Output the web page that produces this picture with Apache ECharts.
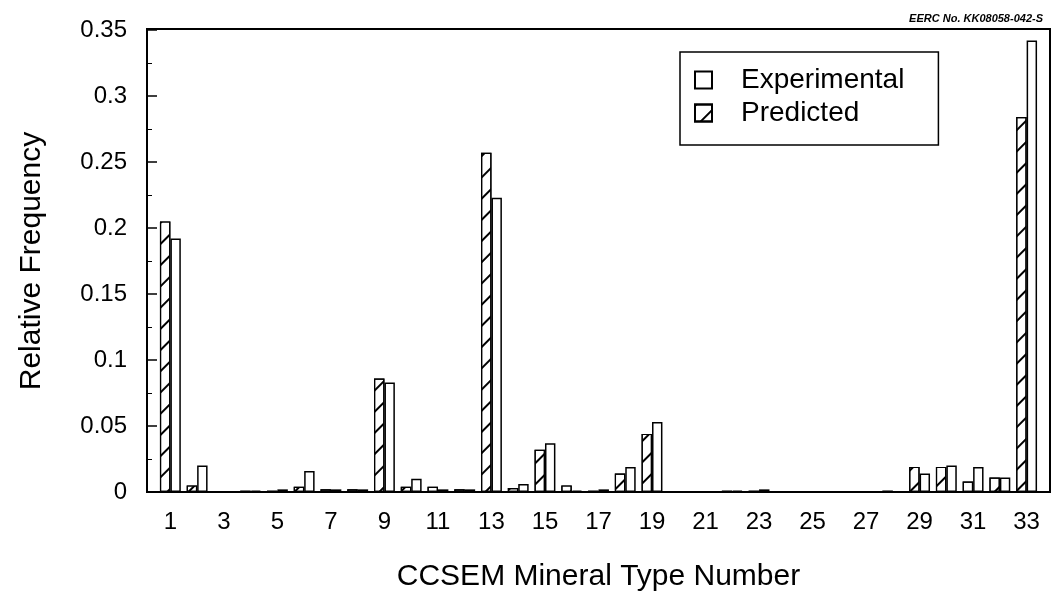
<!DOCTYPE html>
<html>
<head>
<meta charset="utf-8">
<script src="https://cdn.jsdelivr.net/npm/echarts@6/dist/echarts.min.js"></script>
<style>
  html, body { margin: 0; padding: 0; background: #fff; }
  #chart { width: 1058px; height: 592px; }
</style>
</head>
<body>
<div id="chart"></div>
<script>
// CCSEM mineral types 1..33
const mineralTypes = Array.from({ length: 33 }, (_, i) => String(i + 1));

// Relative frequency per mineral type
const predicted = [
  0.205, 0.005, 0.000, 0.001, 0.001, 0.004, 0.002, 0.002, 0.086, 0.004,
  0.004, 0.002, 0.257, 0.003, 0.032, 0.005, 0.001, 0.014, 0.044, 0.000,
  0.000, 0.001, 0.001, 0.000, 0.000, 0.000, 0.000, 0.001, 0.019, 0.019,
  0.008, 0.011, 0.284
];
const experimental = [
  0.192, 0.020, 0.000, 0.001, 0.002, 0.016, 0.002, 0.002, 0.083, 0.010,
  0.002, 0.002, 0.223, 0.006, 0.037, 0.001, 0.002, 0.019, 0.053, 0.000,
  0.000, 0.001, 0.002, 0.000, 0.000, 0.000, 0.000, 0.000, 0.014, 0.020,
  0.019, 0.011, 0.342
];

const yTicks = { min: 0, max: 0.35, step: 0.05 };

const FONT = '"Liberation Sans", Arial, Helvetica, sans-serif';

// diagonal single hatch for the predicted bars
const hatch = {
  symbol: 'rect',
  symbolSize: 1,
  color: '#000',
  dashArrayX: [1, 0],
  dashArrayY: [1.5, 13],
  rotation: -Math.PI / 4
};

const chart = echarts.init(document.getElementById('chart'), null, { renderer: 'canvas' });

chart.setOption({
  backgroundColor: '#fff',
  animation: false,
  title: {
    text: 'EERC No. KK08058-042-S',
    right: 10,
    top: 8,
    textStyle: { fontFamily: FONT, fontSize: 11, fontWeight: 'bold', fontStyle: 'italic', color: '#000' }
  },
  grid: { left: 157, right: 18, top: 30, bottom: 100, outerBoundsMode: 'none', containLabel: false },
  legend: {
    orient: 'vertical',
    left: 680,
    top: 52,
    padding: [14, 34, 18, 14],
    borderColor: '#000',
    borderWidth: 1.5,
    icon: 'rect',
    itemWidth: 17,
    itemHeight: 17,
    itemGap: 5,
    data: ['Experimental', 'Predicted'],
    textStyle: { fontFamily: FONT, fontSize: 28, color: '#000', padding: [0, 0, 0, 24] }
  },
  graphic: [{
    type: 'rect',
    shape: { x: 147, y: 29, width: 903, height: 463 },
    style: { fill: 'none', stroke: '#000', lineWidth: 2 },
    silent: true,
    z: 10
  }],
  xAxis: {
    type: 'category',
    data: mineralTypes,
    name: 'CCSEM Mineral Type Number',
    nameLocation: 'middle',
    nameGap: 70,
    nameTextStyle: { fontFamily: FONT, fontSize: 30, color: '#000' },
    axisLine: { show: false },
    axisTick: { show: false },
    axisLabel: { interval: 1, margin: 18, fontFamily: FONT, fontSize: 24, color: '#000' }
  },
  yAxis: {
    type: 'value',
    min: yTicks.min,
    max: yTicks.max,
    interval: yTicks.step,
    offset: 10,
    name: 'Relative Frequency',
    nameLocation: 'middle',
    nameGap: 100,
    nameTextStyle: { fontFamily: FONT, fontSize: 30, color: '#000' },
    axisLine: { show: false },
    axisTick: { show: true, inside: true, length: 10, lineStyle: { color: '#000', width: 1.5 } },
    minorTick: { show: true, splitNumber: 2, length: 5, lineStyle: { color: '#000', width: 1 } },
    splitLine: { show: false },
    axisLabel: { margin: 20, fontFamily: FONT, fontSize: 24, color: '#000' }
  },
  series: [
    {
      name: 'Predicted',
      type: 'bar',
      data: predicted,
      barGap: '0%',
      barCategoryGap: '22%',
      itemStyle: { color: '#fff', borderColor: '#000', borderWidth: 1.2, decal: hatch }
    },
    {
      name: 'Experimental',
      type: 'bar',
      data: experimental,
      barGap: '0%',
      barCategoryGap: '22%',
      itemStyle: { color: '#fff', borderColor: '#000', borderWidth: 1.5 }
    }
  ]
});
</script>
</body>
</html>
